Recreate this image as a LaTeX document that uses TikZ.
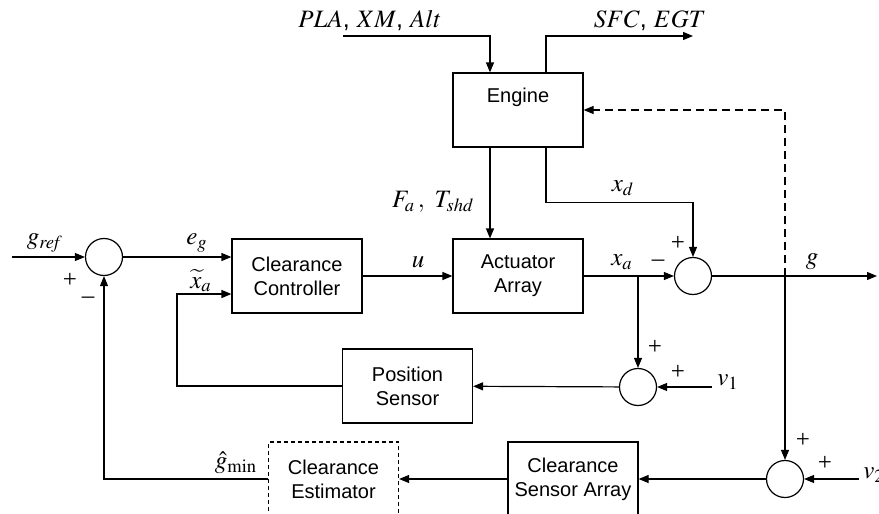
\documentclass[tikz,border=0pt]{standalone}
\usepackage{mathptmx}
\usepackage[no-math]{fontspec}
\setmainfont{Liberation Sans}
\newfontfamily\signfont{Liberation Serif}
\usetikzlibrary{arrows.meta}

\begin{document}
\begin{tikzpicture}[x=0.5pt, y=-0.5pt, line width=0.6pt, >={Triangle[length=5pt,width=4pt]},
    block/.style={rectangle, draw, minimum width=65pt, minimum height=37pt, align=center, font=\fontsize{10}{12}\selectfont},
    sum/.style={circle, draw, minimum size=18.5pt, inner sep=0pt},
    lbl/.style={inner sep=1pt, font=\fontsize{12.5}{14}\selectfont},
    sign/.style={inner sep=1pt, font=\signfont\fontsize{12.5}{14}\selectfont}]

    \clip (0,0) rectangle (879,514);

    % blocks
    \node[block, label={[anchor=north, yshift=-4pt, font=\fontsize{10}{12}\selectfont]north:Engine}] (engine) at (518,110) {};
    \node[block] (actuator) at (518,276) {Actuator\\Array};
    \node[block] (controller) at (297,276) {Clearance\\Controller};
    \node[block] (possensor) at (407.5,386) {Position\\Sensor};
    \node[block] (sensorarr) at (573,479) {Clearance\\Sensor Array};
    \node[block, dash pattern=on 2pt off 1.5pt] (estimator) at (333.5,479) {Clearance\\Estimator};

    % summing junctions
    \node[sum] (sum1) at (104,257) {};
    \node[sum] (sumd) at (693,276) {};
    \node[sum] (sumv1) at (638,387) {};
    \node[sum] (sumv2) at (785,479) {};

    % free ends and branch points
    \coordinate (grefin) at (12,257);
    \coordinate (plain) at (343,36);
    \coordinate (sfcout) at (693,36);
    \coordinate (v1in) at (712,387);
    \coordinate (v2in) at (859,479);
    \coordinate (gout) at (877,276);
    \coordinate (xabr) at (638,276);
    \coordinate (gbr) at (785,276);
    \coordinate (fbturn) at (177,386);

    % forward path
    \draw[->] (grefin) -- (sum1);
    \draw[->] (sum1) -- (sum1 -| controller.west);
    \draw[->] (controller) -- (actuator);
    \draw[->] (actuator) -- (sumd);
    \draw[->] (sumd) -- (gout);

    % engine
    \draw[->] (plain) -| ([xshift=-14pt]engine.north);
    \draw[->] ([xshift=14pt]engine.north) |- (sfcout);
    \draw[->] ([xshift=-14pt]engine.south) -- ([xshift=-14pt]actuator.north);
    \draw[->] ([xshift=14pt]engine.south) -- ++(0,55) -| (sumd);

    % position loop
    \draw[->] (xabr) -- (sumv1);
    \draw[->] (v1in) -- (sumv1);
    \draw[->] (sumv1) -- (possensor);
    \draw[->] (possensor) -- (fbturn) |- ([yshift=-9pt]controller.west);

    % clearance loop
    \draw[->] (gbr) -- (sumv2);
    \draw[->, dash pattern=on 4pt off 2.5pt] (gbr) |- (engine);
    \draw[->] (v2in) -- (sumv2);
    \draw[->] (sumv2) -- (sensorarr);
    \draw[->] (sensorarr) -- (estimator);
    \draw[->] (estimator) -| (sum1);

    % labels
    \node[lbl] (lgref) at (45,243) {$g_{\mathit{ref}}$};
    \node[lbl] (leg) at (197,243) {$e_g$};
    \node[lbl] (lxt) at (201,281) {$\widetilde{x}_a$};
    \node[lbl] (lu) at (418,262) {$u$};
    \node[lbl] (lxa) at (622,262) {$x_a$};
    \node[lbl] (lxd) at (623,188) {$x_d$};
    \node[lbl] (lg) at (812,262) {$g$};
    \node[lbl] (lfa) at (433,202) {$F_a\,,\ T_{\mathit{shd}}$};
    \node[lbl] (lpla) at (370,20) {$PLA$, $XM$, $Alt$};
    \node[lbl] (lsfc) at (650,21) {$SFC$, $EGT$};
    \node[lbl] (lv1) at (728,382) {$v_1$};
    \node[lbl] (lv2) at (874,475) {$v_2$};
    \node[lbl] (lgmin) at (236,463) {$\hat{g}_{\min}$};

    % signs
    \node[sign] (s1a) at (70,280) {+};
    \node[sign] (s1b) at (88,300) {\textendash};
    \node[sign] (s2a) at (678,243) {+};
    \node[sign] (s2b) at (658,263) {\textendash};
    \node[sign] (s3a) at (655,347) {+};
    \node[sign] (s3b) at (678,372) {+};
    \node[sign] (s4a) at (803,440) {+};
    \node[sign] (s4b) at (825,463) {+};

\end{tikzpicture}
\end{document}
